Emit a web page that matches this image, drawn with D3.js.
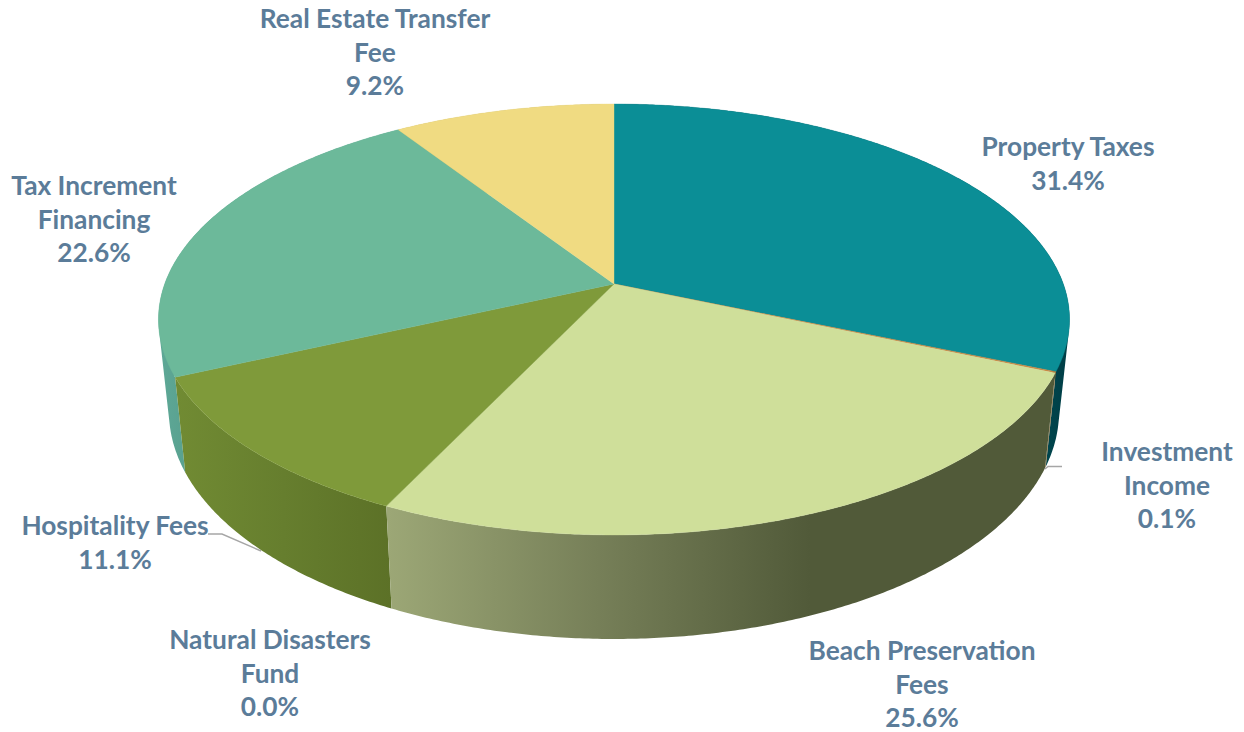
<!DOCTYPE html>
<html><head><meta charset="utf-8">
<script src="https://cdnjs.cloudflare.com/ajax/libs/d3/7.8.5/d3.min.js"></script>
<style>html,body{margin:0;padding:0;background:#fff;overflow:hidden}svg{display:block}</style>
</head><body><svg id="c" width="1244" height="732"></svg>
<script>
// Data
const categories = ["Property Taxes","Investment Income","Beach Preservation Fees","Natural Disasters Fund","Hospitality Fees","Tax Increment Financing","Real Estate Transfer Fee"];
const shares = [31.4,0.1,25.6,0.0,11.1,22.6,9.2];
const labelLines = [["Property Taxes"],["Investment","Income"],["Beach Preservation","Fees"],["Natural Disasters","Fund"],["Hospitality Fees"],["Tax Increment","Financing"],["Real Estate Transfer","Fee"]];

// Styles and layout (separate from data)
const topColors = ["#0b8e96","#c9853f","#cfdf9a","#a9a9a9","#7f9a3a","#6cb99a","#f0db82"];
const wallStops = [
  [[0,"#00484f"],[1,"#003d45"]],
  [[0,"#8a6a35"],[1,"#8a6a35"]],
  [[0,"#9ca776"],[0.5,"#767f58"],[1,"#515a39"]],
  [[0,"#888"],[1,"#888"]],
  [[0,"#718b33"],[0.5,"#667e2e"],[1,"#5c7127"]],
  [[0,"#5ea896"],[1,"#58a08f"]],
  [[0,"#c4b26a"],[1,"#c4b26a"]]
];
const wallRange = [[1040,1070],[1040,1060],[388,810],[380,392],[175,392],[160,190],[400,620]];
const labelCentres = [[1068,147],[1167,452],[922,651],[270,640],[115,526],[94,186],[375,19]];
const leaders = [
  null,[[1062,466.5],[1048,466.5],[1045,469]],null,null,[[208,534],[222,534],[261,551]],null,null
];
const lineStep = 33.6, fontSize = 26.3, textColor = "#5b7c99";

// Projection from pie disc to the tilted view
const persp = 0.1647;
const sx = d3.scaleLinear().domain([-1,1]).range([614-449.3,614+449.3]);
const sy = d3.scaleLinear().domain([-1,1]).range([284-209.6,284+209.6]);
const lowX = d3.scaleLinear().domain([-1,1]).range([614-449.3*0.977,614+449.3*0.977]);
const lowY = d3.scaleLinear().domain([-1,1]).range([284+90-209.6*1.056,284+90+209.6*1.056]);
const rim = (a,fx,fy)=>{
  const u=Math.sin(a), v=-Math.cos(a), w=1-persp*v;
  return [fx(u/w),fy(v/w)];
};
const upper = a=>rim(a,sx,sy), lower = a=>rim(a,lowX,lowY);
const apex=[sx(0),sy(0)];

const arcs = d3.pie().sort(null).value(d=>d)(shares);
const svg = d3.select("#c");
const defs = svg.append("defs");
const line = d3.line();
const sample=(a0,a1)=>{const n=Math.max(2,Math.ceil((a1-a0)*120));return d3.range(n+1).map(i=>a0+(a1-a0)*i/n);};

wallStops.forEach((st,i)=>{
  const g=defs.append("linearGradient").attr("id","w"+i).attr("gradientUnits","userSpaceOnUse")
    .attr("x1",wallRange[i][0]).attr("x2",wallRange[i][1]).attr("y1",0).attr("y2",0);
  st.forEach(s=>g.append("stop").attr("offset",s[0]).attr("stop-color",s[1]));
});

// Walls, back to front: one consistently wound quad per sample step so folds at the silhouette stay filled
const order = arcs.map((d,i)=>({d,i})).filter(o=>o.d.value>0)
  .sort((p,q)=>(-Math.cos((p.d.startAngle+p.d.endAngle)/2))-(-Math.cos((q.d.startAngle+q.d.endAngle)/2)));
svg.append("g").selectAll("path").data(order).join("path")
  .attr("d",o=>{
    const t=sample(o.d.startAngle,o.d.endAngle);
    return d3.pairs(t).map(([a,b])=>{
      const quad=[upper(a),upper(b),lower(b),lower(a)];
      if(d3.polygonArea(quad)<0) quad.reverse();
      return line(quad)+"Z";
    }).join("");
  })
  .attr("fill",o=>`url(#w${o.i})`);

// Top faces
svg.append("g").selectAll("path").data(arcs.map((d,i)=>({d,i})).filter(o=>o.d.value>0)).join("path")
  .attr("d",o=>line([apex].concat(sample(o.d.startAngle,o.d.endAngle).map(upper)))+"Z")
  .attr("fill",o=>topColors[o.i])
  .attr("stroke",o=>topColors[o.i]).attr("stroke-width",0.4);

// Leader lines
svg.append("g").selectAll("path").data(leaders.filter(Boolean)).join("path")
  .attr("d",d=>line(d)).attr("fill","none").attr("stroke","#a6a6a6").attr("stroke-width",1.4);

// Labels
const fmt=d3.format(".1f");
categories.forEach((c,i)=>{
  const lines=labelLines[i].concat([fmt(shares[i])+"%"]);
  const t=svg.append("text").attr("text-anchor","middle")
    .attr("font-family","Lato, Carlito, sans-serif").attr("font-weight",700)
    .attr("font-size",fontSize).attr("fill",textColor);
  lines.forEach((l,k)=>t.append("tspan").attr("x",labelCentres[i][0])
    .attr("y",labelCentres[i][1]+k*lineStep+9).text(l));
});
</script></body></html>
